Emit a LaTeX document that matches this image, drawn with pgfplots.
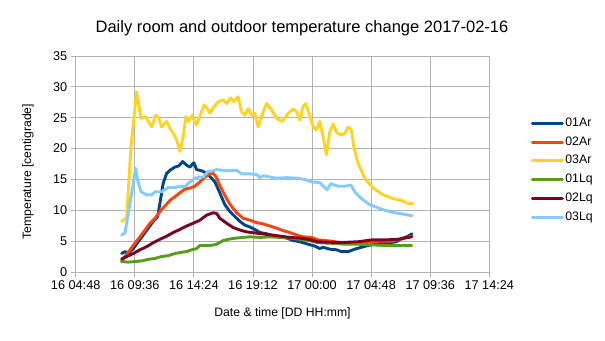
\documentclass[border=0pt]{standalone}
\usepackage{fontspec}
\setmainfont{Liberation Sans}
\usepackage{pgfplots}
\usepackage{pgfplotstable}
\pgfplotsset{compat=1.18}
\definecolor{cA}{HTML}{004586}
\definecolor{cB}{HTML}{FF420E}
\definecolor{cC}{HTML}{FFD320}
\definecolor{cD}{HTML}{579D1C}
\definecolor{cE}{HTML}{7E0021}
\definecolor{cF}{HTML}{83CAFF}
\definecolor{gridc}{HTML}{B3B3B3}

% x = hours after 16 00:00
\pgfplotstableread{
h v
8.53 3.0
8.80 3.3
9.07 3.0
9.48 3.8
9.88 4.9
10.29 6.0
10.69 7.1
11.10 8.2
11.46 9.0
11.64 11.1
11.91 14.4
12.19 16.0
12.54 16.6
12.86 17.0
13.18 17.2
13.49 17.9
13.81 17.3
14.08 17.0
14.40 17.7
14.62 16.6
15.03 16.4
15.43 16.0
15.84 15.2
16.11 14.6
16.51 12.8
16.92 10.9
17.32 9.8
17.73 9.0
18.14 8.2
18.54 7.6
18.95 7.3
19.35 6.9
19.76 6.4
20.30 6.2
20.84 5.9
21.38 5.7
21.93 5.5
22.46 5.1
23.01 4.9
23.68 4.5
24.22 4.2
24.63 3.8
24.90 4.0
25.44 3.7
25.99 3.6
26.39 3.3
26.93 3.3
27.47 3.7
28.01 4.0
28.55 4.3
29.09 4.5
29.64 4.65
30.31 4.75
30.85 4.9
31.39 5.5
31.80 5.8
32.12 6.2
}\dataA

\pgfplotstableread{
h v
8.53 1.7
8.80 2.5
9.21 3.6
9.61 4.65
10.02 5.7
10.43 6.8
10.83 7.9
11.24 8.7
11.64 9.8
12.05 10.7
12.45 11.6
12.86 12.2
13.27 12.85
13.67 13.4
14.08 13.6
14.48 13.9
14.89 14.6
15.30 15.4
15.70 15.9
15.97 16.0
16.24 15.3
16.51 14.0
16.92 12.4
17.32 11.0
17.87 9.6
18.40 8.7
18.95 8.4
19.49 8.0
20.03 7.8
20.57 7.45
21.12 7.1
21.65 6.7
22.19 6.4
22.74 6.0
23.27 5.7
23.96 5.6
24.49 5.2
25.04 5.1
25.58 5.0
26.12 4.8
26.66 4.65
27.20 4.65
27.74 4.75
28.28 4.85
28.83 4.9
29.36 5.0
29.91 5.0
30.45 5.0
30.99 5.2
31.53 5.5
32.12 5.8
}\dataB

\pgfplotstableread{
h v
8.53 8.2
8.94 8.8
9.29 20.3
9.75 29.2
10.10 24.9
10.48 25.2
10.69 24.4
10.97 23.5
11.29 25.4
11.56 24.9
11.78 23.5
12.19 24.4
12.45 23.3
12.72 22.5
13.00 21.4
13.27 19.5
13.53 21.9
13.75 25.2
13.94 24.4
14.26 25.4
14.62 23.8
14.97 25.7
15.24 27.1
15.56 26.3
15.70 25.7
15.97 26.6
16.37 27.6
16.78 27.9
17.06 27.3
17.38 28.2
17.65 27.6
18.00 28.4
18.27 26.0
18.54 25.4
18.81 26.5
19.09 25.4
19.35 25.7
19.62 23.5
19.90 25.2
20.30 27.3
20.71 26.3
21.12 24.9
21.52 24.4
21.65 24.6
22.06 25.7
22.46 26.4
22.74 26.0
23.01 24.6
23.27 26.8
23.49 27.3
23.76 25.7
24.09 23.5
24.36 23.0
24.63 24.4
24.90 21.9
25.17 19.0
25.44 22.7
25.71 24.0
26.03 22.5
26.39 22.2
26.66 22.5
26.93 23.5
27.20 23.0
27.39 20.3
27.74 17.6
28.28 15.2
28.96 13.6
29.77 12.5
30.58 11.9
31.26 11.6
31.80 11.1
32.20 11.1
}\dataC

\pgfplotstableread{
h v
8.53 1.7
9.07 1.6
9.61 1.7
10.16 1.8
10.69 2.05
11.24 2.2
11.78 2.5
12.32 2.65
12.86 3.0
13.40 3.2
13.81 3.3
14.22 3.6
14.62 3.8
14.89 4.3
15.30 4.3
15.70 4.3
16.05 4.4
16.24 4.5
16.78 5.1
17.32 5.35
17.87 5.5
18.40 5.6
18.95 5.7
19.76 5.6
20.57 5.7
21.38 5.6
22.19 5.5
23.01 5.3
23.76 5.1
24.47 4.75
25.58 4.65
26.66 4.5
27.71 4.5
28.83 4.4
29.91 4.3
30.96 4.3
32.10 4.3
}\dataD

\pgfplotstableread{
h v
8.53 2.1
8.94 2.5
9.48 3.0
10.02 3.6
10.56 4.1
11.10 4.75
11.64 5.3
12.19 5.8
12.72 6.4
13.27 6.9
13.81 7.45
14.35 7.9
14.89 8.4
15.43 9.2
15.97 9.6
16.24 9.5
16.51 8.7
17.06 7.9
17.59 7.2
18.14 6.8
18.68 6.5
19.49 6.3
20.30 6.1
21.12 5.9
22.19 5.6
23.01 5.5
23.68 5.3
24.47 4.9
25.58 4.8
26.66 4.8
27.71 4.9
28.83 5.2
29.91 5.2
30.96 5.3
32.10 5.7
}\dataE

\pgfplotstableread{
h v
8.53 6.0
8.80 6.3
9.07 9.5
9.39 13.3
9.67 16.8
9.83 14.9
10.10 13.0
10.56 12.5
10.97 12.5
11.24 13.0
11.78 13.0
12.32 13.7
12.86 13.7
13.40 13.9
13.67 13.8
14.08 14.6
14.48 15.2
14.89 15.4
15.16 15.4
15.56 16.3
15.97 16.4
16.24 16.6
17.06 16.4
17.87 16.5
18.27 15.9
18.95 15.9
19.49 15.8
19.76 15.3
20.03 15.6
20.57 15.4
21.12 15.2
21.93 15.3
22.74 15.2
23.41 15.0
23.96 14.6
24.63 14.5
24.98 13.8
25.22 13.3
25.52 14.3
26.12 13.9
26.66 13.9
27.15 14.1
27.47 13.0
28.01 11.9
28.69 10.9
29.23 10.5
29.91 10.0
30.72 9.6
31.53 9.35
32.12 9.1
}\dataF

\begin{document}
\begin{tikzpicture}[x=1pt,y=1pt]
\useasboundingbox (-75.7,-68) rectangle (529.3,272);
\node[anchor=base, font=\fontsize{16.5}{19}\selectfont] at (226.3,239.7) {Daily room and outdoor temperature change 2017-02-16};
\begin{axis}[
  at={(0,0)}, anchor=south west,
  scale only axis, width=413.6pt, height=216pt,
  xmin=4.8, xmax=38.4, ymin=0, ymax=35,
  xtick={4.8,9.6,14.4,19.2,24,28.8,33.6,38.4},
  xticklabels={16 04:48,16 09:36,16 14:24,16 19:12,17 00:00,17 04:48,17 09:36,17 14:24},
  ytick={0,5,10,15,20,25,30,35},
  /pgf/number format/assume math mode=true,
  tick label style={font=\fontsize{12.7}{15}\selectfont},
  grid=major,
  grid style={draw=gridc, line width=0.9pt},
  axis line style={draw=gridc, line width=0.9pt},
  tick style={draw=gridc, line width=0.9pt},
  tick align=outside, major tick length=5pt,
  xtick pos=bottom, ytick pos=left,
  xlabel={Date \& time [DD HH:mm]},
  ylabel={Temperature [centigrade]},
  label style={font=\fontsize{12.2}{14}\selectfont},
  xlabel style={at={(axis description cs:0.5,-0.19)}, anchor=center},
  ylabel style={at={(axis description cs:-0.1153,0.4644)}, anchor=center, rotate=0},
  legend cell align=left,
  legend style={at={(axis description cs:1.1,0.471)}, anchor=west, draw=none, fill=none,
    font=\fontsize{12.3}{14}\selectfont, inner sep=0pt, row sep=3.8pt,
    nodes={inner sep=1.5pt, text height=9pt, text depth=3pt}},
  legend image code/.code={\draw[#1, line width=3pt] (0pt,0pt) -- (30pt,0pt);},
  every axis plot/.append style={line width=2.9pt, line join=round, line cap=round},
]
\addplot[cA] table[x=h,y=v] {\dataA};
\addlegendentry{01Ar}
\addplot[cB] table[x=h,y=v] {\dataB};
\addlegendentry{02Ar}
\addplot[cC] table[x=h,y=v] {\dataC};
\addlegendentry{03Ar}
\addplot[cD] table[x=h,y=v] {\dataD};
\addlegendentry{01Lq}
\addplot[cE] table[x=h,y=v] {\dataE};
\addlegendentry{02Lq}
\addplot[cF] table[x=h,y=v] {\dataF};
\addlegendentry{03Lq}
\end{axis}
\end{tikzpicture}
\end{document}
